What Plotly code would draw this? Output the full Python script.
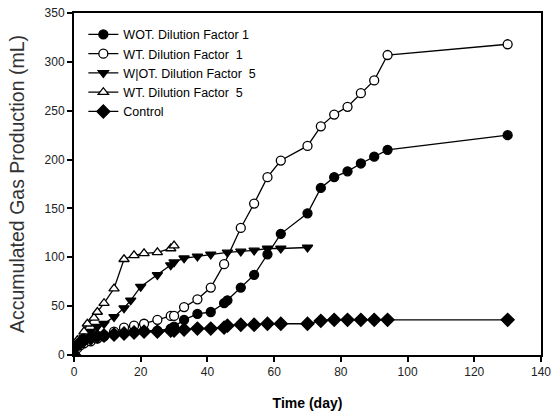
import plotly.graph_objects as go

# ---- data ----
days_wot1 = [0, 1, 2, 3, 5, 7, 9, 12, 15, 18, 21, 25, 29, 30, 33, 37, 41, 45, 46, 50, 54, 58, 62, 70, 74, 78, 82, 86, 90, 94, 130]
wot_df1 = [0, 8, 11, 13, 15, 17, 19, 21, 23, 24, 25, 25, 27, 29, 36, 42, 44, 53, 56, 69, 82, 103, 124, 145, 171, 182, 188, 196, 203, 210, 225]

days_wt1 = [0, 1, 2, 3, 5, 7, 9, 12, 15, 18, 21, 25, 29, 30, 33, 37, 41, 45, 50, 54, 58, 62, 70, 74, 78, 82, 86, 90, 94, 130]
wt_df1 = [0, 7, 10, 12, 14, 17, 20, 24, 28, 30, 32, 36, 40, 40, 49, 57, 69, 93, 130, 155, 182, 199, 214, 234, 246, 254, 268, 281, 307, 318]

days_wot5 = [0, 1, 2, 3, 5, 7, 9, 12, 15, 17, 20, 25, 29, 30, 33, 37, 41, 46, 50, 54, 58, 62, 70]
wot_df5 = [0, 10, 14, 18, 24, 29, 32, 39, 48, 56, 70, 82, 92, 95, 99, 101, 103, 105, 106, 107, 109, 109, 110]

days_wt5 = [0, 1, 3, 4, 6, 7, 9, 12, 15, 18, 21, 25, 29, 30]
wt_df5 = [8, 15, 24, 32, 38, 44, 53, 68, 98, 102, 104, 105, 109, 112]

days_ctrl = [0, 1, 2, 3, 5, 7, 9, 12, 15, 18, 21, 25, 29, 30, 33, 37, 41, 45, 46, 50, 54, 58, 62, 70, 74, 78, 82, 86, 90, 94, 130]
control = [0, 10, 13, 15, 17, 19, 20, 21, 22, 23, 24, 24, 25, 25, 26, 27, 27, 28, 30, 31, 31, 32, 32, 32, 35, 36, 36, 36, 36, 36, 36]

x_ticks = [0, 20, 40, 60, 80, 100, 120, 140]
y_ticks = [0, 50, 100, 150, 200, 250, 300, 350]

series = [
    ("WOT. Dilution Factor 1", days_wot1, wot_df1, "circle", "black"),
    ("WT. Dilution Factor  1", days_wt1, wt_df1, "circle", "white"),
    ("W|OT. Dilution Factor  5", days_wot5, wot_df5, "triangle-down", "black"),
    ("WT. Dilution Factor  5", days_wt5, wt_df5, "triangle-up", "white"),
    ("Control", days_ctrl, control, "diamond", "black"),
]

fig = go.Figure()
for name, xs, ys, sym, fill in series:
    fig.add_trace(go.Scatter(
        x=xs, y=ys, name=name, mode="lines+markers",
        line=dict(color="black", width=1.3),
        marker=dict(symbol=sym, size=9 if sym != "diamond" else 10, color=fill,
                    line=dict(color="black", width=1.3)),
    ))

axis_common = dict(
    showline=True, linecolor="black", linewidth=2, mirror=True,
    ticks="outside", ticklen=5, tickwidth=1.5, tickcolor="black",
    showgrid=False, zeroline=False, automargin=False,
    ticklabeloverflow="allow",
    tickfont=dict(family="Liberation Sans, Arial", size=12, color="#222"),
)

fig.update_layout(
    width=552, height=417,
    margin=dict(l=74, r=11, t=13, b=62, autoexpand=False),
    paper_bgcolor="white", plot_bgcolor="white",
    font=dict(family="Liberation Sans, Arial", color="black"),
    xaxis=dict(range=[0, 140], tickvals=x_ticks,
               title=dict(text="<b>Time (day)</b>", font=dict(size=14, color="black"), standoff=20),
               **axis_common),
    yaxis=dict(range=[0, 350], tickvals=y_ticks,
               title=dict(text="Accumulated Gas Production (mL)", font=dict(size=19.5, color="#333"), standoff=15),
               **axis_common),
    legend=dict(x=0.02, y=0.98, xanchor="left", yanchor="top",
                bgcolor="rgba(0,0,0,0)", font=dict(size=12.5, color="black"),
                tracegroupgap=0, itemwidth=30),
    showlegend=True,
)

# remove the browser's default 8px page margin so the figure fills the window exactly
fig.write_html("out.html", config={"displayModeBar": False},
               post_script="document.body.style.margin='0';document.body.style.overflow='hidden';")
